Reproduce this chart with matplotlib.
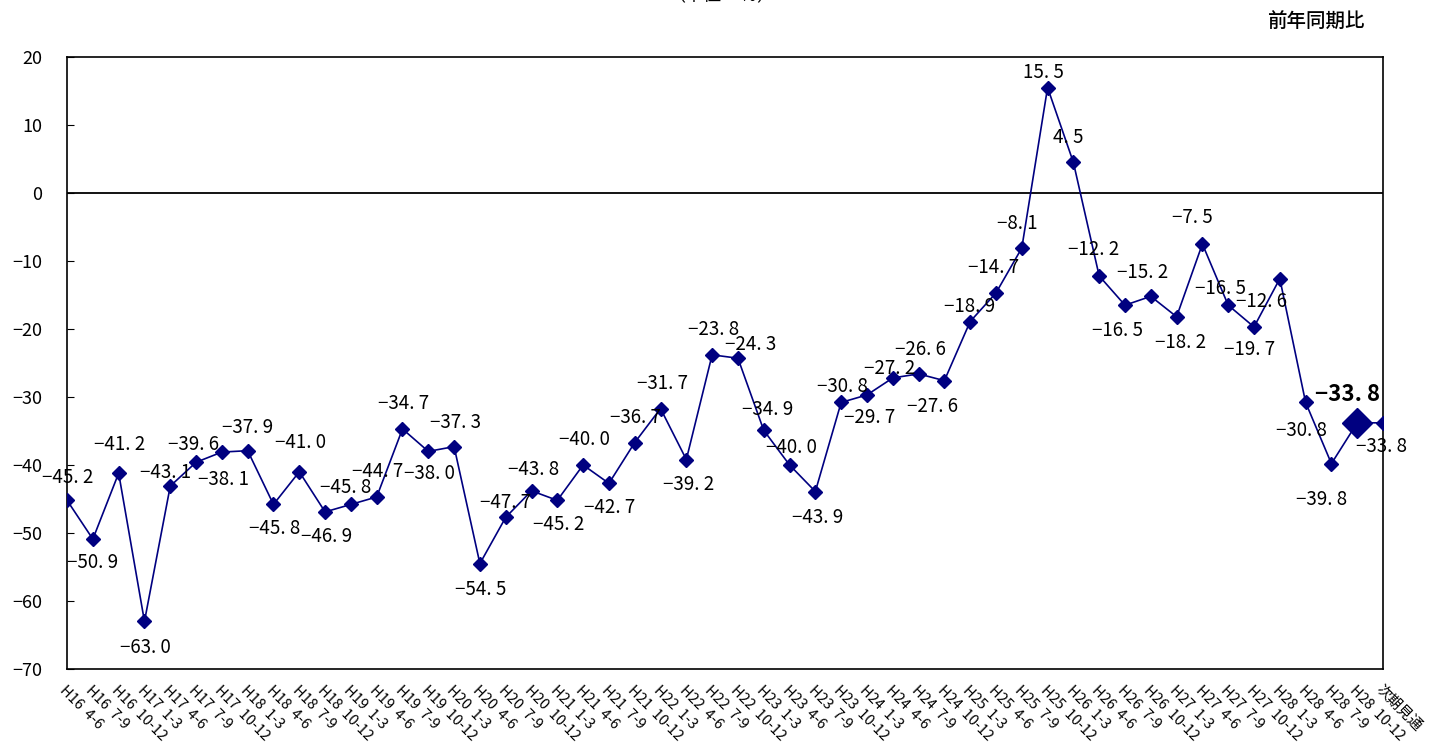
import matplotlib.pyplot as plt
import numpy as np

plt.rcParams['font.family'] = ['Noto Sans CJK JP', 'DejaVu Sans']

# 期間ラベル
periods = [
    "H16  4-6", "H16  7-9", "H16  10-12",
    "H17  1-3", "H17  4-6", "H17  7-9", "H17  10-12",
    "H18  1-3", "H18  4-6", "H18  7-9", "H18  10-12",
    "H19  1-3", "H19  4-6", "H19  7-9", "H19  10-12",
    "H20  1-3", "H20  4-6", "H20  7-9", "H20  10-12",
    "H21  1-3", "H21  4-6", "H21  7-9", "H21  10-12",
    "H22  1-3", "H22  4-6", "H22  7-9", "H22  10-12",
    "H23  1-3", "H23  4-6", "H23  7-9", "H23  10-12",
    "H24  1-3", "H24  4-6", "H24  7-9", "H24  10-12",
    "H25  1-3", "H25  4-6", "H25  7-9", "H25  10-12",
    "H26  1-3", "H26  4-6", "H26  7-9", "H26  10-12",
    "H27  1-3", "H27  4-6", "H27  7-9", "H27  10-12",
    "H28  1-3", "H28  4-6", "H28  7-9", "H28  10-12",
    "次期見通",
]

# 前年同期比 (%)
values = [
    -45.2, -50.9, -41.2,
    -63.0, -43.1, -39.6, -38.1,
    -37.9, -45.8, -41.0, -46.9,
    -45.8, -44.7, -34.7, -38.0,
    -37.3, -54.5, -47.7, -43.8,
    -45.2, -40.0, -42.7, -36.7,
    -31.7, -39.2, -23.8, -24.3,
    -34.9, -40.0, -43.9, -30.8,
    -29.7, -27.2, -26.6, -27.6,
    -18.9, -14.7, -8.1, 15.5,
    4.5, -12.2, -16.5, -15.2,
    -18.2, -7.5, -16.5, -19.7,
    -12.6, -30.8, -39.8, -33.8,
    -33.8,
]

# 今期の点
current = 50

# ラベルの位置 (ピクセル、右・下が正)
label_offsets = [
    (1, -23), (0, 23), (1, -29),
    (1, 26), (-5, -14), (-3, -18), (2, 27),
    (0, -23), (1, 24), (1, -29), (1, 25),
    (-5, -17), (1, -25), (1, -25), (1, 22),
    (1, -24), (1, 26), (0, -15), (2, -21),
    (1, 24), (1, -25), (1, 24), (1, -25),
    (2, -25), (2, 25), (1, -25), (13, -14),
    (4, -21), (2, -17), (2, 26), (1, -16),
    (3, 23), (-3, -9), (2, -24), (-12, 26),
    (-1, -15), (-2, -25), (-4, -25), (-4, -15),
    (-5, -25), (-6, -26), (-7, 25), (-8, -24),
    (4, 26), (-10, -26), (-8, -17), (-4, 23),
    (-18, 23), (-4, 28), (-10, 36), (-10, -28),
    (-2, 24),
]


def fmt(v):
    return f"{v:.1f}".replace("-", "\u2212").replace(".", ". ")


fig = plt.figure(figsize=(14.42, 7.42), dpi=100)
ax = fig.add_axes([0.0465, 0.0984, 0.9126, 0.8248])

x = np.arange(len(values))
navy = '#000080'
ax.plot(x, values, color=navy, lw=1.2, marker='D', ms=7, zorder=3)
ax.plot(x[current], values[current], color=navy, marker='D', ms=15, zorder=4)
ax.axhline(0, color='black', lw=1.3, zorder=2)

for i, v in enumerate(values):
    dx, dy = label_offsets[i]
    if i == current:
        ax.annotate(fmt(v), (x[i], v), xytext=(dx, -dy), textcoords='offset pixels',
                    ha='center', va='center', fontsize=16, fontweight='bold')
    else:
        ax.annotate(fmt(v), (x[i], v), xytext=(dx, -dy), textcoords='offset pixels',
                    ha='center', va='center', fontsize=13.5)

ax.set_xlim(0, len(values) - 1)
ax.set_ylim(-70, 20)
ax.set_yticks(np.arange(-70, 21, 10))
ax.tick_params(axis='y', direction='in', length=5, labelsize=13, pad=18)

ax.set_xticks(x)
ax.set_xticklabels(periods, rotation=-45, ha='left', va='top',
                   rotation_mode='anchor', fontsize=10.5)
ax.tick_params(axis='x', length=0, pad=10)

for s in ax.spines.values():
    s.set_linewidth(1.2)

fig.text(0.9466, 0.97, "前年同期比", ha='right', va='center', fontsize=14, fontweight='medium')
fig.text(0.50, 1.005, "（単位：％）", ha='center', va='center', fontsize=13)

fig.savefig("out.png", dpi=100)
